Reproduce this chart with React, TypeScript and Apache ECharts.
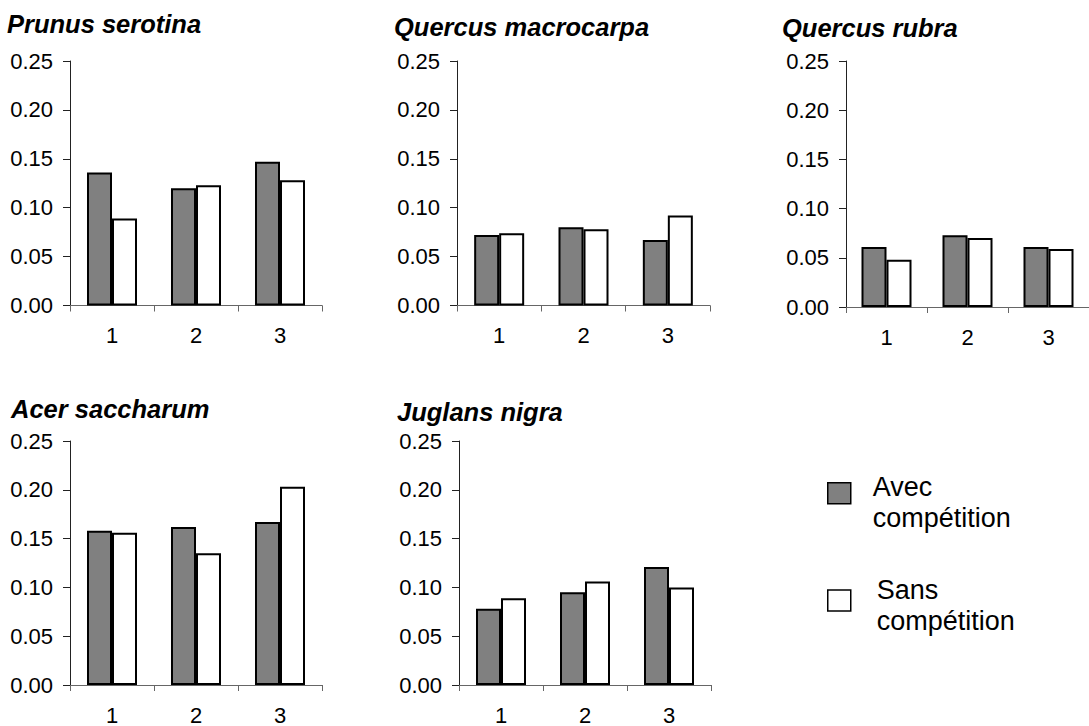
import React, { useEffect, useRef } from "react";
import * as echarts from "echarts";

const categories = ["1", "2", "3"];
const seriesNames = ["Avec compétition", "Sans compétition"];
const panelTitles = ["Prunus serotina", "Quercus macrocarpa", "Quercus rubra", "Acer saccharum", "Juglans nigra"];

const prunusAvec = [0.136, 0.120, 0.147];
const prunusSans = [0.089, 0.123, 0.128];
const macrocarpaAvec = [0.072, 0.080, 0.067];
const macrocarpaSans = [0.074, 0.078, 0.092];
const rubraAvec = [0.061, 0.073, 0.061];
const rubraSans = [0.048, 0.070, 0.059];
const acerAvec = [0.158, 0.162, 0.167];
const acerSans = [0.156, 0.135, 0.203];
const juglansAvec = [0.078, 0.095, 0.121];
const juglansSans = [0.089, 0.106, 0.100];

const yMin = 0;
const yMax = 0.25;
const yStep = 0.05;

const panelData = [
  [prunusAvec, prunusSans],
  [macrocarpaAvec, macrocarpaSans],
  [rubraAvec, rubraSans],
  [acerAvec, acerSans],
  [juglansAvec, juglansSans],
];

// layout (pixels)
const grids = [
  { left: 70, top: 61, width: 252, height: 244.5 },
  { left: 457, top: 61, width: 253, height: 244.5 },
  { left: 846, top: 61, width: 252, height: 246 },
  { left: 70, top: 441, width: 252, height: 244.5 },
  { left: 459, top: 441, width: 252, height: 244.5 },
];
const titlePos = [
  { left: 7, top: 10.5 },
  { left: 394, top: 13.5 },
  { left: 782, top: 14.5 },
  { left: 11, top: 395.5 },
  { left: 397, top: 399 },
];
// legend: square sits at the top of a taller icon box so the two-line label hangs lower
const legendTops = [471.2, 574];
const legendIconHeights = [39, 30];
const legendTextLeft = [17, 21];

const FONT = "'Liberation Sans', Arial, sans-serif";
const fills = ["#808080", "#ffffff"];

export default function App() {
  const ref = useRef<HTMLDivElement>(null);
  useEffect(() => {
    if (!ref.current) return;
    const chart = echarts.init(ref.current, null, { renderer: "svg" });
    const series: any[] = [];
    panelData.forEach((pair, i) => {
      pair.forEach((vals, j) => {
        series.push({
          type: "bar",
          name: seriesNames[j],
          xAxisIndex: i,
          yAxisIndex: i,
          data: vals,
          barWidth: 25,
          barGap: "0%",
          itemStyle: { color: fills[j], borderColor: "#000", borderWidth: 2 },
        });
      });
    });
    const option: any = {
      animation: false,
      backgroundColor: "#fff",
      textStyle: { fontFamily: FONT },
      title: panelTitles.map((t, i) => ({
        text: t,
        left: titlePos[i].left,
        top: titlePos[i].top,
        padding: 0,
        textStyle: { fontSize: 25.5, fontStyle: "italic", fontWeight: "bold", color: "#000", fontFamily: FONT },
      })),
      legend: seriesNames.map((n, j) => {
        const h = legendIconHeights[j];
        return {
          data: [
            {
              name: n,
              icon: `path://M0,0L23,0L23,21L0,21Z M0,${h}L0,${h}`,
              itemStyle: { color: fills[j], borderColor: "#000", borderWidth: 1.5 },
            },
          ],
          left: 827,
          top: legendTops[j],
          padding: 0,
          itemWidth: 23,
          itemHeight: h,
          selectedMode: false,
          formatter: (name: string) => name.replace(" ", "\n"),
          textStyle: {
            fontSize: 27,
            lineHeight: 31,
            color: "#000",
            fontFamily: FONT,
            padding: [0, 0, 0, legendTextLeft[j]],
          },
        };
      }),
      grid: grids.map((g) => ({ ...g, containLabel: false })),
      xAxis: grids.map((_, i) => ({
        type: "category",
        gridIndex: i,
        data: categories,
        boundaryGap: true,
        axisLine: { lineStyle: { color: "#666", width: 1 } },
        axisTick: { show: true, length: 6, lineStyle: { color: "#666" } },
        axisLabel: { fontSize: 22, color: "#000", margin: 19, fontFamily: FONT },
        splitLine: { show: false },
      })),
      yAxis: grids.map((_, i) => ({
        type: "value",
        gridIndex: i,
        min: yMin,
        max: yMax,
        interval: yStep,
        axisLine: { show: true, lineStyle: { color: "#222", width: 1 } },
        axisTick: { show: true, length: 7, lineStyle: { color: "#222" } },
        axisLabel: {
          fontSize: 22,
          color: "#000",
          margin: 17,
          fontFamily: FONT,
          formatter: (v: number) => v.toFixed(2),
        },
        splitLine: { show: false },
      })),
      series,
    };
    chart.setOption(option);
    return () => chart.dispose();
  }, []);
  return (
    <div
      ref={ref}
      style={{ position: "fixed", left: 0, top: 0, width: 1089, height: 726, background: "#fff" }}
    />
  );
}
